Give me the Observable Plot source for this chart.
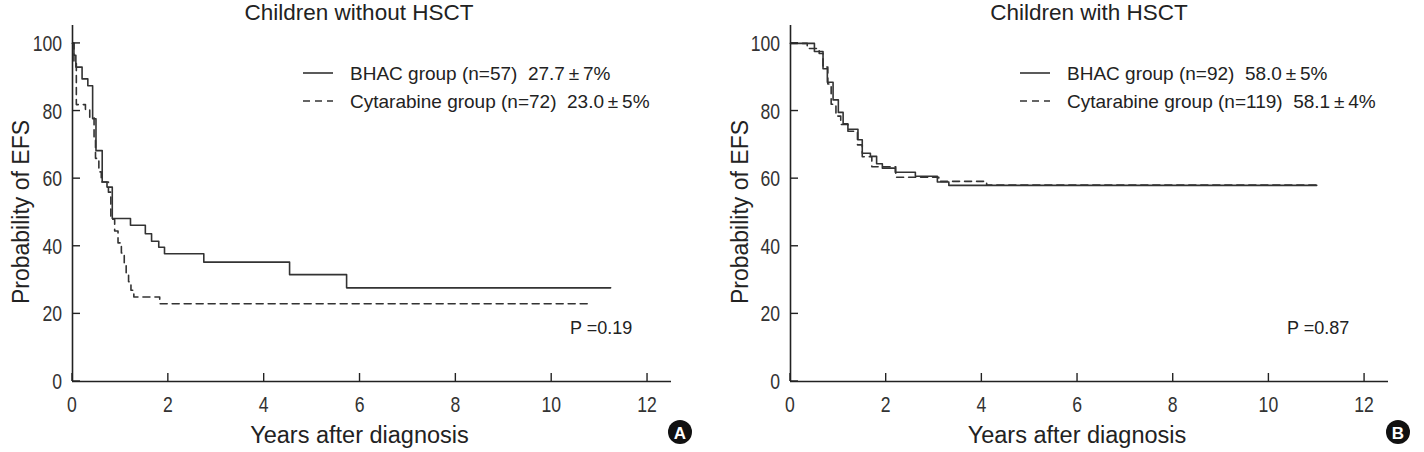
<!DOCTYPE html>
<html>
<head>
<meta charset="utf-8">
<script src="https://cdn.jsdelivr.net/npm/d3@7"></script>
<script src="https://cdn.jsdelivr.net/npm/@observablehq/plot@0.6"></script>
<style>
  body { margin: 0; background: #fff; }
  #fig { display: flex; width: 1424px; height: 452px; overflow: hidden; }
  #fig svg { display: block; }
</style>
</head>
<body>
<div id="fig"></div>
<script>
// Axis ticks shared by both panels
const xTicks = [0, 2, 4, 6, 8, 10, 12];
const yTicks = [0, 20, 40, 60, 80, 100];

// Panel A — children without HSCT (Kaplan–Meier steps: years, EFS %)
const bhacNoHsctTime = [0, 0.03, 0.07, 0.2, 0.32, 0.42, 0.49, 0.62, 0.72, 0.83, 1.21, 1.52, 1.65, 1.8, 1.92, 2.74, 4.53, 5.72];
const bhacNoHsctEfs  = [100, 96.5, 93, 89.5, 87.5, 77.7, 68.3, 59, 57.5, 48.2, 46.2, 43.7, 41.5, 39.7, 37.8, 35.3, 31.6, 27.7];
const bhacNoHsctEnd  = 11.23;
const cytNoHsctTime  = [0, 0.03, 0.08, 0.27, 0.36, 0.45, 0.48, 0.55, 0.6, 0.75, 0.8, 0.88, 0.95, 1.02, 1.08, 1.12, 1.17, 1.22, 1.28, 1.82];
const cytNoHsctEfs   = [100, 94.5, 81.9, 80.5, 78, 72, 66, 62, 59, 56, 48, 44.5, 41, 38, 35, 32, 29.5, 27, 25, 23];
const cytNoHsctEnd   = 10.8;

// Panel B — children with HSCT
const bhacHsctTime = [0, 0.5, 0.68, 0.77, 0.89, 1.0, 1.1, 1.2, 1.41, 1.5, 1.67, 1.8, 1.92, 2.19, 2.61, 3.07, 3.31];
const bhacHsctEfs  = [100, 97.6, 92.5, 88.5, 83.3, 79.6, 76.2, 74.6, 71.5, 67.5, 66.6, 64.4, 63.1, 61.9, 60.7, 59.0, 58.0];
const bhacHsctEnd  = 11.0;
const cytHsctTime  = [0, 0.35, 0.6, 0.68, 0.78, 0.85, 0.95, 1.05, 1.2, 1.4, 1.5, 1.7, 2.2, 3.1, 4.1];
const cytHsctEfs   = [100, 98.5, 97, 93, 88, 82, 78.5, 76, 74, 70, 66.5, 63.5, 60.4, 59.2, 58.1];
const cytHsctEnd   = 11.0;

// Text
const titles = ["Children without HSCT", "Children with HSCT"];
const legendLabelsA = ["BHAC group (n=57)  27.7\u2009±\u20097%", "Cytarabine group (n=72)  23.0\u2009±\u20095%"];
const legendLabelsB = ["BHAC group (n=92)  58.0\u2009±\u20095%", "Cytarabine group (n=119)  58.1\u2009±\u20094%"];
const pValues = ["P =0.19", "P =0.87"];
const badges = ["A", "B"];
const xLabel = "Years after diagnosis";
const yLabel = "Probability of EFS";

const FONT = "'Liberation Sans', Arial, Helvetica, sans-serif";
const INK = "#222";
const LINE = "#333";

function steps(time, efs, end) {
  const pts = time.map((t, i) => ({t, s: efs[i]}));
  pts.push({t: end, s: efs[efs.length - 1]});
  return pts;
}

function panel(cfg) {
  const W = 712, H = 452;
  const annotate = (index, scales) => {
    const {x, y} = scales;
    const g = d3.create("svg:g").attr("font-family", FONT).attr("fill", INK).attr("text-anchor", "start");
    // inward tick marks
    const tk = g.append("g").attr("stroke", INK).attr("stroke-width", 1.4);
    for (const t of xTicks) tk.append("line").attr("x1", x(t)).attr("x2", x(t)).attr("y1", y(0)).attr("y2", y(0) - 8);
    for (const v of yTicks) tk.append("line").attr("x1", x(0)).attr("x2", x(0) + 8).attr("y1", y(v)).attr("y2", y(v));
    // condensed tick labels
    for (const t of xTicks) g.append("text")
      .attr("transform", `translate(${x(t)},${y(0) + 31}) scale(0.8,1)`)
      .attr("text-anchor", "middle").attr("font-size", 22).attr("fill", "#333").text(t);
    for (const v of yTicks) g.append("text")
      .attr("transform", `translate(${x(0) - 10},${y(v) + 8}) scale(0.8,1)`)
      .attr("text-anchor", "end").attr("font-size", 22).attr("fill", "#333").text(v);
    // title
    g.append("text").attr("x", cfg.titleX).attr("y", 20).attr("text-anchor", "middle")
      .attr("font-size", 22.5).text(cfg.title);
    // axis labels
    g.append("text").attr("x", (x(0) + x(12.5)) / 2 - 12).attr("y", 443).attr("text-anchor", "middle")
      .attr("font-size", 23.5).text(xLabel);
    g.append("text").attr("transform", `translate(${cfg.yLabelX},212) rotate(-90)`).attr("text-anchor", "middle")
      .attr("font-size", 23).text(yLabel);
    // legend
    const lg = g.append("g").attr("transform", `translate(${cfg.legendX},0)`);
    [["none", 73], ["7,5", 101]].forEach(([dash, ly], i) => {
      lg.append("line").attr("x1", 0).attr("x2", 30).attr("y1", ly).attr("y2", ly)
        .attr("stroke", LINE).attr("stroke-width", 1.6).attr("stroke-dasharray", dash);
      lg.append("text").attr("x", 47).attr("y", ly + 6.5).attr("font-size", 19).text(cfg.legend[i]);
    });
    // p-value
    g.append("text").attr("x", cfg.pX).attr("y", 334).attr("font-size", 18).text(cfg.p);
    // panel badge
    g.append("circle").attr("cx", cfg.badgeX).attr("cy", 432).attr("r", 12).attr("fill", "#111");
    g.append("text").attr("x", cfg.badgeX).attr("y", 438.5).attr("text-anchor", "middle")
      .attr("font-size", 17).attr("font-weight", "bold").attr("fill", "#fff").text(cfg.badge);
    return g.node();
  };
  return Plot.plot({
    width: W, height: H,
    marginLeft: cfg.marginLeft, marginRight: cfg.marginRight, marginTop: 25, marginBottom: 71,
    x: {domain: [0, 12.5], axis: null},
    y: {domain: [0, 105.3], axis: null},
    style: {background: "#fff", color: INK, overflow: "visible"},
    marks: [
      Plot.ruleY([0], {stroke: INK, strokeWidth: 1.6}),
      Plot.ruleX([0], {stroke: INK, strokeWidth: 1.6}),
      Plot.line(cfg.solid, {x: "t", y: "s", curve: "step-after", stroke: LINE, strokeWidth: 1.6}),
      Plot.line(cfg.dashed, {x: "t", y: "s", curve: "step-after", stroke: LINE, strokeWidth: 1.6, strokeDasharray: "7,5"}),
      annotate
    ]
  });
}

const fig = document.getElementById("fig");
fig.append(panel({
  title: titles[0], titleX: 359, marginLeft: 72, marginRight: 41, yLabelX: 29,
  legendX: 303, legend: legendLabelsA, pX: 570, p: pValues[0], badgeX: 680, badge: badges[0],
  solid: steps(bhacNoHsctTime, bhacNoHsctEfs, bhacNoHsctEnd),
  dashed: steps(cytNoHsctTime, cytNoHsctEfs, cytNoHsctEnd)
}));
fig.append(panel({
  title: titles[1], titleX: 377, marginLeft: 78, marginRight: 36, yLabelX: 36,
  legendX: 308, legend: legendLabelsB, pX: 575, p: pValues[1], badgeX: 686, badge: badges[1],
  solid: steps(bhacHsctTime, bhacHsctEfs, bhacHsctEnd),
  dashed: steps(cytHsctTime, cytHsctEfs, cytHsctEnd)
}));
</script>
</body>
</html>
